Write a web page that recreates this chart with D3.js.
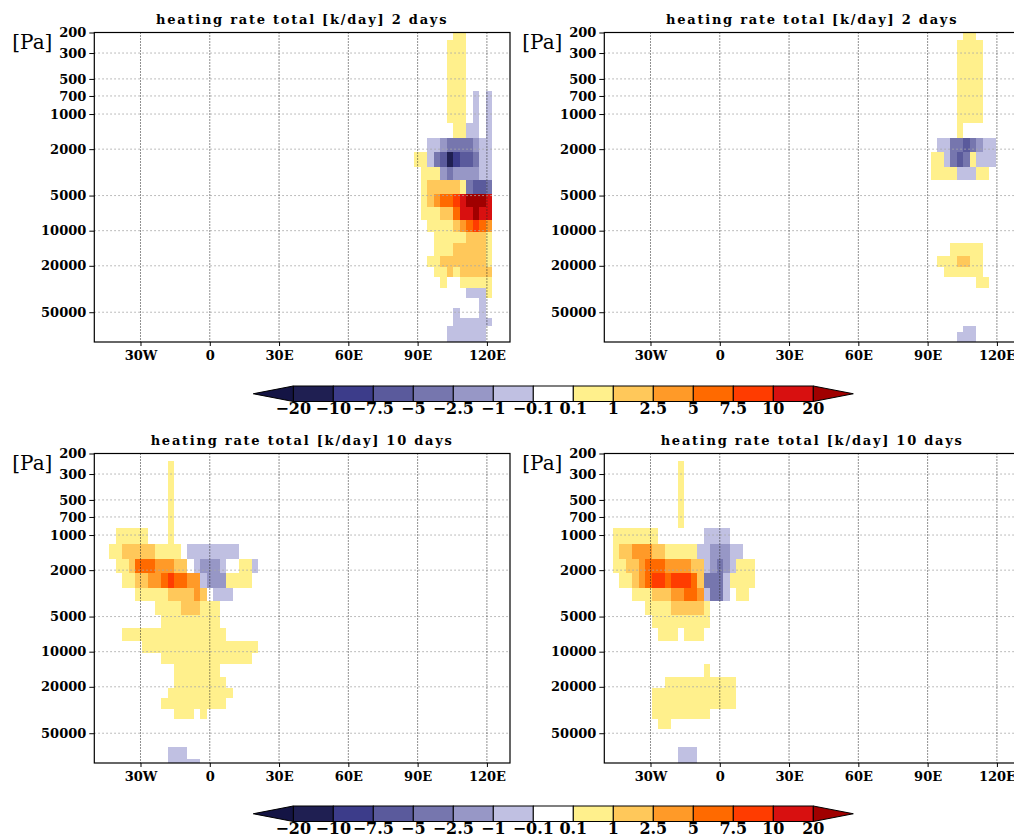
<!DOCTYPE html>
<html><head><meta charset="utf-8">
<script src="https://cdn.jsdelivr.net/npm/d3@7"></script>
<style>body{margin:0;background:#fff;overflow:hidden}</style>
</head><body><svg id="c" width="1014" height="838"></svg>
<script>
// ---- data ----
const levelEdges = [200, 232, 635, 865, 1187, 1595, 2103, 2828, 3678, 4848, 6303, 8098, 10203,
  12830, 16390, 20360, 25090, 30820, 37980, 46290, 56380, 65640, 73460, 83140, 90000];
const lonStep = 2.8125;
const xTicks = [-30, 0, 30, 60, 90, 120];
const xTickLabels = ["30W", "0", "30E", "60E", "90E", "120E"];
const yTicks = [200, 300, 500, 700, 1000, 2000, 5000, 10000, 20000, 50000];
const thresholds = [-20, -10, -7.5, -5, -2.5, -1, -0.1, 0.1, 1, 2.5, 5, 7.5, 10, 20];
const cbLabels = ["\u221220", "\u221210", "\u22127.5", "\u22125", "\u22122.5", "\u22121", "\u22120.1",
  "0.1", "1", "2.5", "5", "7.5", "10", "20"];
const palette = ["#141444", "#1f1f52", "#3c3c8a", "#5a5a9c", "#7676ae", "#9797c6", "#c0c0e2", "#ffffff",
  "#fff08c", "#ffc85a", "#ff9a28", "#ff6a00", "#ff3c00", "#d81010", "#a00000"];
const classKeys = "ABCDEFG1234567";
const classValues = [-25, -15, -8.75, -6.25, -3.75, -1.75, -0.5, 0.5, 1.75, 3.75, 6.25, 8.75, 15, 25];
const titles = ["heating rate total [k/day] 2 days", "heating rate total [k/day] 2 days",
  "heating rate total [k/day] 10 days", "heating rate total [k/day] 10 days"];
const kStart = [32, 32, -16, -16];

const day2Left = [
  "......11....",
  ".....111....",
  ".....111.G.G",
  ".....111.G.G",
  "......11GG.G",
  "..GGFEEEEFGG",
  "11GEDBCDDEGG",
  ".111FEFFFFGG",
  ".1222221EDDE",
  ".12344567776",
  ".11122466766",
  "..1111234543",
  "...111112221",
  "...111222221",
  "..1122222221",
  "...112122222",
  "....1..11111",
  "........GGG1",
  "..........G.",
  "......G...G.",
  "......GGGGGG",
  ".....GGGGGG.",
  ".....GGGGGG.",
  ".....GGGGGG."];
const day2Right = [
  "......11....",
  ".....1111...",
  ".....1111...",
  ".....1111...",
  ".....1......",
  "..GGEEDEFGG.",
  ".11GEDE1GGG.",
  ".1111GGG11..",
  "............",
  "............",
  "............",
  "............",
  "............",
  "....11111...",
  "..1112211...",
  "...111111...",
  "........11..",
  "............",
  "............",
  "............",
  "............",
  "......GG....",
  ".....GGG....",
  ".....GGG...."];
const day10Left = [
  "........................",
  "..........1.............",
  "..........1.............",
  "..11111...1.............",
  ".11222221111.GGGGGGGG...",
  "..11244433322.GFFFG..11G",
  "...112233454433GFFF1111.",
  ".....11111222232.GGG....",
  "........1111222111......",
  ".........111111111......",
  "...1111111111111111.....",
  "......111111111111111111",
  ".........11111111111111.",
  "...........1111111......",
  "...........11111111.....",
  "..........1111111111....",
  ".........1111111111.....",
  "...........111.1........",
  "........................",
  "........................",
  "........................",
  "..........GGG...........",
  "..........GGG...........",
  "..........GGGGG........."];
const day10Right = [
  "........................",
  "..........1.............",
  "..........1.............",
  "1111111.......GGGG......",
  "1223332211111GGFFFGG....",
  "11223444333322GFEFG111..",
  ".1123455455542EEEG1111..",
  "...11122233443GEEG.11...",
  ".....1111222221.........",
  "......111111111.........",
  ".......111.111..........",
  "........................",
  "........................",
  "..............1.........",
  "........11111111111.....",
  "......1111111111111.....",
  "......1111111111111.....",
  "......111111111.........",
  ".......11...............",
  "........................",
  "........................",
  "..........GGG...........",
  "..........GGG...........",
  "..........GGG..........."];
const panelData = [day2Left, day2Right, day10Left, day10Right];

// ---- layout ----
const svg = d3.select("#c");
const panelX = [94.3, 604.3, 94.3, 604.3];
const panelY = [32.5, 32.5, 453.5, 453.5];
const pw = 415.7, ph = 309.5;
const color = d3.scaleThreshold().domain(thresholds).range(palette);
const serif = "'DejaVu Serif', serif";

panelData.forEach((rows, pi) => {
  const x0 = panelX[pi], y0 = panelY[pi];
  const xs = d3.scaleLinear().domain([-50, 130]).range([x0, x0 + pw]);
  const ys = d3.scaleLog().domain([200, 90000]).range([y0, y0 + ph]);
  const g = svg.append("g");
  const clipId = "clip" + pi;
  g.append("clipPath").attr("id", clipId).append("rect")
    .attr("x", x0).attr("y", y0).attr("width", pw).attr("height", ph);
  const cells = [];
  rows.forEach((row, ri) => {
    for (let j = 0; j < row.length; j++) {
      const ch = row[j];
      if (ch === ".") continue;
      cells.push({lon: (kStart[pi] + j) * lonStep, p0: levelEdges[ri], p1: levelEdges[ri + 1],
        v: classValues[classKeys.indexOf(ch)]});
    }
  });
  g.append("g").attr("clip-path", `url(#${clipId})`).selectAll("rect").data(cells).join("rect")
    .attr("x", d => xs(d.lon - lonStep / 2))
    .attr("width", d => xs(d.lon + lonStep / 2) - xs(d.lon - lonStep / 2))
    .attr("y", d => ys(d.p0))
    .attr("height", d => ys(d.p1) - ys(d.p0))
    .attr("fill", d => color(d.v))
    .attr("shape-rendering", "crispEdges");
  // grid
  g.selectAll(".hg").data(yTicks).join("line")
    .attr("x1", x0).attr("x2", x0 + pw)
    .attr("y1", d => ys(d)).attr("y2", d => ys(d))
    .attr("stroke", "#a8a8a8").attr("stroke-width", 1).attr("stroke-dasharray", "1.5,2.5");
  g.selectAll(".vg").data(xTicks).join("line")
    .attr("x1", d => xs(d)).attr("x2", d => xs(d))
    .attr("y1", y0).attr("y2", y0 + ph)
    .attr("stroke", "#222").attr("stroke-width", 1).attr("stroke-dasharray", "1,2");
  // frame
  g.append("rect").attr("x", x0).attr("y", y0).attr("width", pw).attr("height", ph)
    .attr("fill", "none").attr("stroke", "#000").attr("stroke-width", 1.2);
  // axes
  const ax = d3.axisBottom(xs).tickValues(xTicks).tickFormat((d, i) => xTickLabels[i])
    .tickSizeOuter(0).tickSizeInner(4).tickPadding(5);
  const axg = g.append("g").attr("transform", `translate(0,${y0 + ph})`).call(ax);
  axg.select(".domain").remove();
  axg.selectAll("text").attr("font-family", serif).attr("font-weight", "bold")
    .attr("font-size", 13).attr("fill", "#000");
  const ay = d3.axisLeft(ys).tickValues(yTicks).tickFormat(d3.format("d"))
    .tickSizeOuter(0).tickSizeInner(5).tickPadding(3);
  const ayg = g.append("g").attr("transform", `translate(${x0},0)`).call(ay);
  ayg.select(".domain").remove();
  ayg.selectAll("text").attr("font-family", serif).attr("font-weight", "bold")
    .attr("font-size", 13).attr("fill", "#000");
  // title and unit
  g.append("text").attr("x", x0 + pw / 2).attr("y", y0 - 9).attr("text-anchor", "middle")
    .attr("font-family", serif).attr("font-size", 13).attr("letter-spacing", 1.75)
    .attr("font-weight", "bold")
    .text(titles[pi]);
  g.append("text").attr("x", x0 - 82).attr("y", y0 + 16)
    .attr("font-family", serif).attr("font-size", 20).text("[Pa]");
});

// ---- colorbars ----
[386, 806].forEach(cy => {
  const h = 15.5;
  const cx = d3.scaleLinear().domain([0, thresholds.length - 1]).range([293.3, 813.3]);
  const g = svg.append("g");
  const boxes = d3.range(thresholds.length - 1);
  g.selectAll("rect").data(boxes).join("rect")
    .attr("x", i => cx(i)).attr("width", i => cx(i + 1) - cx(i))
    .attr("y", cy).attr("height", h)
    .attr("fill", i => color((thresholds[i] + thresholds[i + 1]) / 2))
    .attr("stroke", "#000").attr("stroke-width", 1);
  const tw = 40;
  g.append("path")
    .attr("d", `M${cx(0)},${cy}L${cx(0) - tw},${cy + h / 2}L${cx(0)},${cy + h}Z`)
    .attr("fill", color(thresholds[0] - 1)).attr("stroke", "#000").attr("stroke-width", 1);
  const xe = cx(thresholds.length - 1);
  g.append("path")
    .attr("d", `M${xe},${cy}L${xe + tw},${cy + h / 2}L${xe},${cy + h}Z`)
    .attr("fill", color(thresholds[thresholds.length - 1] + 1)).attr("stroke", "#000").attr("stroke-width", 1);
  g.selectAll("text").data(cbLabels).join("text")
    .attr("x", (d, i) => cx(i)).attr("y", cy + h + 12.5)
    .attr("text-anchor", "middle").attr("font-family", serif).attr("font-weight", "bold")
    .attr("font-size", 16).text(d => d);
});
</script></body></html>
